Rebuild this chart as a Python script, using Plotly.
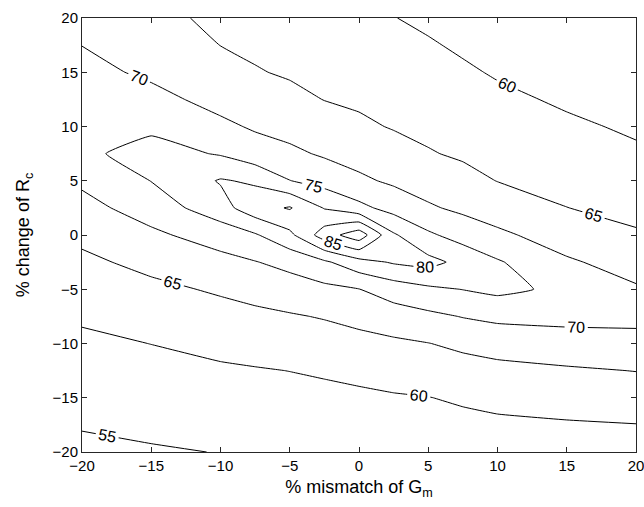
import plotly.graph_objects as go

# % mismatch of Gm (columns) and % change of Rc (rows)
gm_mismatch = [-20, -15, -10, -7.5, -5, -2.5, 0, 2.5, 5, 7.5, 10, 15, 20]
rc_change = [-20, -17.5, -15, -12.5, -10, -7.5, -5, -2.5, 0, 2.5, 5, 7.5, 10, 12.5, 15, 17.5, 20]

# values (one row per Rc value)
row_m20 = [54.0, 54.6, 55.1, 55.4, 55.7, 56.0, 56.3, 56.6, 57.0, 57.3, 57.7, 58.1, 58.5]
row_m175 = [55.3, 55.9, 56.6, 56.8, 57.1, 57.4, 57.7, 58.1, 58.5, 58.8, 59.2, 59.6, 59.9]
row_m15 = [56.5, 57.3, 58.0, 58.3, 58.6, 58.9, 59.2, 59.6, 59.9, 60.6, 61.2, 61.8, 62.4]
row_m125 = [57.8, 58.6, 59.4, 59.7, 60.05, 60.5, 61.1, 61.8, 62.4, 63.1, 63.7, 64.4, 65.1]
row_m10 = [59.1, 60.05, 61.2, 61.8, 62.3, 62.9, 63.5, 64.2, 64.9, 66.0, 66.9, 68.0, 69.0]
row_m75 = [60.6, 62.0, 63.3, 63.9, 64.6, 65.3, 66.4, 67.6, 68.9, 70.2, 71.1, 71.3, 70.8]
row_m5 = [62.3, 63.9, 65.6, 66.7, 67.6, 68.8, 69.9, 72.4, 74.1, 75.1, 76.2, 73.9, 70.5]
row_m25 = [64.0, 66.3, 68.6, 69.8, 71.5, 74.2, 78.2, 80.5, 81.5, 78.6, 75.5, 70.6, 68.1]
row_0 = [66.1, 69.1, 72.1, 74.5, 78.8, 87.5, 93.0, 80.6, 75.8, 73.0, 70.9, 67.8, 65.5]
row_p25 = [68.5, 72.1, 78.0, 83.0, 85.4, 79.7, 76.3, 73.2, 70.6, 69.0, 67.7, 65.05, 63.7]
row_p5 = [70.8, 75.1, 80.4, 79.3, 75.1, 73.1, 70.9, 69.2, 67.8, 66.4, 64.9, 63.6, 62.2]
row_p75 = [74.0, 76.9, 74.6, 72.0, 71.0, 69.4, 68.1, 66.8, 65.3, 64.4, 63.6, 62.2, 60.6]
row_p10 = [74.3, 74.0, 70.9, 69.5, 68.3, 67.1, 65.8, 64.7, 64.0, 63.2, 62.2, 60.7, 59.4]
row_p125 = [72.6, 71.3, 68.6, 67.4, 66.2, 64.9, 64.3, 63.5, 62.8, 61.9, 60.9, 59.4, 58.8]
row_p15 = [71.3, 69.2, 66.8, 65.3, 64.5, 63.9, 63.2, 62.4, 61.6, 60.6, 59.6, 58.6, 58.0]
row_p175 = [69.95, 67.7, 64.95, 64.2, 63.5, 62.9, 62.1, 61.3, 60.4, 59.4, 58.7, 57.8, 57.2]
row_p20 = [68.7, 66.3, 64.0, 63.2, 62.6, 61.8, 61.0, 60.1, 59.2, 58.6, 57.8, 57.0, 56.5]

z_rows = [row_m20, row_m175, row_m15, row_m125, row_m10, row_m75, row_m5, row_m25,
          row_0, row_p25, row_p5, row_p75, row_p10, row_p125, row_p15, row_p175, row_p20]

levels_start, levels_end, levels_step = 55, 90, 5
x_ticks = [-20, -15, -10, -5, 0, 5, 10, 15, 20]
y_ticks = [-20, -15, -10, -5, 0, 5, 10, 15, 20]

font_family = "Liberation Sans, Arial, sans-serif"

fig = go.Figure(go.Contour(
    x=gm_mismatch, y=rc_change, z=z_rows,
    contours=dict(start=levels_start, end=levels_end, size=levels_step,
                  coloring="lines", showlabels=True,
                  labelfont=dict(family=font_family, size=16, color="black")),
    colorscale=[[0, "black"], [1, "black"]],
    showscale=False,
    line=dict(width=1, smoothing=0.3),
    hoverinfo="skip",
))

axis_common = dict(
    range=[-20, 20], showline=True, linecolor="#262626", linewidth=1,
    mirror="ticks", ticks="inside", ticklen=5, tickcolor="#262626",
    showgrid=False, zeroline=False, ticklabeloverflow="allow", automargin=False,
    tickfont=dict(family=font_family, size=15, color="black"),
)

fig.update_layout(
    width=644, height=507,
    margin=dict(l=82, r=8, t=18, b=55),
    paper_bgcolor="white", plot_bgcolor="white",
    showlegend=False,
    xaxis=dict(axis_common, tickvals=x_ticks,
               title=dict(text="% mismatch of G<sub>m</sub>", standoff=7,
                          font=dict(family=font_family, size=18, color="black"))),
    yaxis=dict(axis_common, tickvals=y_ticks,
               title=dict(text="% change of R<sub>c</sub>", standoff=18,
                          font=dict(family=font_family, size=18, color="black"))),
)

fig.write_html("out.html")
